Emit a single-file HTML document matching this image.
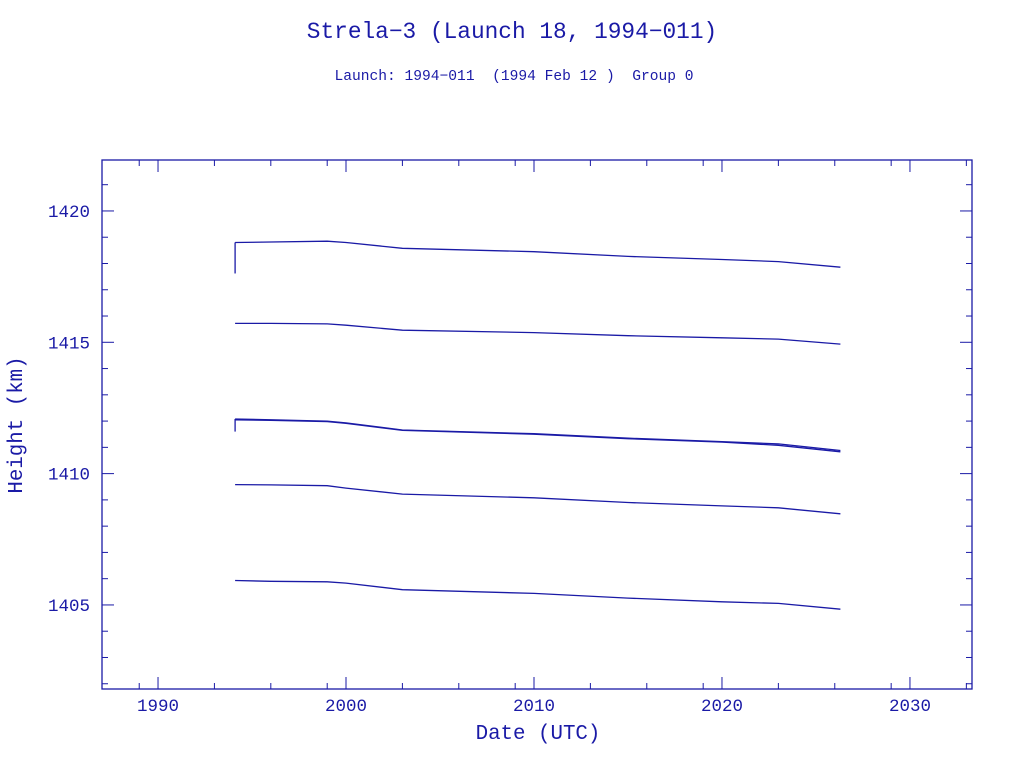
<!DOCTYPE html>
<html><head><meta charset="utf-8"><style>body{margin:0;background:#fff}svg{display:block}text{font-family:"Liberation Mono",monospace;fill:#1a1aa6;white-space:pre}</style></head>
<body>
<svg id="c" width="1024" height="768">
<text x="512" y="38" text-anchor="middle" font-size="22.8">Strela−3 (Launch 18, 1994−011)</text>
<text x="514" y="80" text-anchor="middle" font-size="14.6">Launch: 1994−011  (1994 Feb 12 )  Group 0</text>
<text x="538" y="739" text-anchor="middle" font-size="20.8">Date (UTC)</text>
<text transform="translate(22,425) rotate(-90)" text-anchor="middle" font-size="20.8">Height (km)</text>
<g id="axes"></g><g id="series"></g>
</svg>
<script>
const years=[1994.1,1996,1999,2000,2003,2010,2015,2020,2023,2026.3];
const s1=[1418.8,1418.82,1418.85,1418.8,1418.58,1418.45,1418.27,1418.15,1418.07,1417.86];
const s2=[1415.72,1415.72,1415.7,1415.65,1415.46,1415.37,1415.25,1415.17,1415.12,1414.93];
const s3=[1412.08,1412.05,1412.0,1411.93,1411.66,1411.52,1411.35,1411.22,1411.13,1410.88];
const s3b=[1412.05,1412.03,1411.98,1411.91,1411.65,1411.5,1411.33,1411.2,1411.08,1410.83];
const s4=[1409.58,1409.57,1409.54,1409.45,1409.22,1409.08,1408.9,1408.77,1408.7,1408.47];
const s5=[1405.93,1405.9,1405.88,1405.83,1405.58,1405.44,1405.26,1405.12,1405.06,1404.84];
const series=[s1,s2,s3,s3b,s4,s5];
const xTicks=[1990,2000,2010,2020,2030];
const yTicks=[1405,1410,1415,1420];
const X0=102,X1=972,Y0=160,Y1=689,xmin=1987.02,xmax=2033.3,ymin=1401.8,ymax=1421.94;
const xs=v=>X0+(v-xmin)/(xmax-xmin)*(X1-X0);
const ys=v=>Y1-(v-ymin)/(ymax-ymin)*(Y1-Y0);
const NS="http://www.w3.org/2000/svg",C="#1a1aa6";
const ax=document.getElementById('axes'),sg=document.getElementById('series');
function mk(t,a,p){const e=document.createElementNS(NS,t);for(const k in a)e.setAttribute(k,a[k]);p.appendChild(e);return e;}
const fr=mk('rect',{x:X0,y:Y0,width:X1-X0,height:Y1-Y0,fill:'none',stroke:C,'stroke-width':1.3},ax);


for(let d=1980;d<=2040;d+=10){for(let k=0;k<10;k+=3){const v=d+k;if(v<xmin||v>xmax)continue;const L=k==0?12:6,x=xs(v);
mk('line',{x1:x,x2:x,y1:Y1,y2:Y1-L,stroke:C},ax);mk('line',{x1:x,x2:x,y1:Y0,y2:Y0+L,stroke:C},ax);}}
for(let v=1402;v<=1421;v++){const L=v%5==0?12:6,y=ys(v);
mk('line',{x1:X0,x2:X0+L,y1:y,y2:y,stroke:C},ax);mk('line',{x1:X1,x2:X1-L,y1:y,y2:y,stroke:C},ax);}
xTicks.forEach(v=>{const t=mk('text',{x:xs(v),y:Y1+22,'text-anchor':'middle','font-size':17.5},ax);t.textContent=v;

});
yTicks.forEach(v=>{const t=mk('text',{x:X0-12,y:ys(v)+6,'text-anchor':'end','font-size':17.5},ax);t.textContent=v;

});
series.forEach((s,i)=>{const pts=years.map((y,j)=>xs(y).toFixed(1)+','+ys(s[j]).toFixed(1)).join(' ');
const p=mk('polyline',{points:pts,fill:'none',stroke:C,'stroke-width':1.3},sg);

});
const sp1=mk('line',{x1:xs(years[0]),x2:xs(years[0]),y1:ys(s1[0]),y2:ys(1417.62),stroke:C,'stroke-width':1.3},sg);


const sp2=mk('line',{x1:xs(years[0]),x2:xs(years[0]),y1:ys(s3[0]),y2:ys(1411.6),stroke:C,'stroke-width':1.3},sg);


</script>
</body></html>
